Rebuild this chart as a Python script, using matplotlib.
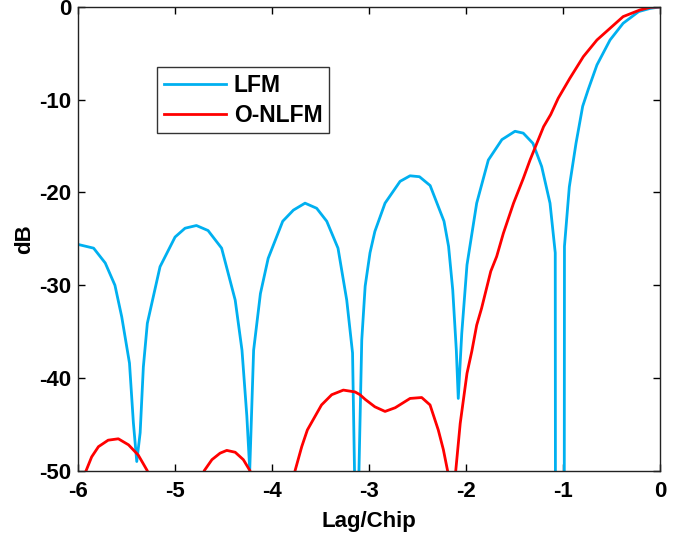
import numpy as np
import matplotlib
matplotlib.use('Agg')
import matplotlib.pyplot as plt

plt.rcParams['font.family'] = ['Liberation Sans', 'DejaVu Sans']
plt.rcParams['font.weight'] = 'bold'
plt.rcParams['axes.unicode_minus'] = False

lfm_x = [-6.0, -5.84, -5.72, -5.62, -5.55, -5.47, -5.43, -5.395, -5.36, -5.327, -5.286, -5.155,
         -5.0, -4.897, -4.78, -4.66, -4.52, -4.38, -4.31, -4.26, -4.23, -4.19, -4.12, -4.04,
         -3.89, -3.78, -3.66, -3.54, -3.436, -3.32, -3.23, -3.17, -3.145, -3.11, -3.075, -3.04,
         -2.99, -2.94, -2.835, -2.68, -2.577, -2.48, -2.37, -2.227, -2.18, -2.137, -2.10, -2.08,
         -2.044, -1.99, -1.89, -1.77, -1.63, -1.495, -1.41, -1.31, -1.22, -1.134, -1.08, -1.078,
         -0.987, -0.985, -0.935, -0.866, -0.797, -0.74, -0.65, -0.515, -0.38, -0.22, -0.1, 0.0]
lfm_db = [-25.6, -26.0, -27.6, -30.0, -33.4, -38.4, -44.8, -49.0, -45.9, -38.8, -34.1, -28.0,
          -24.8, -23.85, -23.56, -24.1, -26.0, -31.6, -37.0, -44.1, -49.9, -37.0, -30.9, -27.1,
          -23.1, -21.9, -21.15, -21.7, -23.1, -26.0, -31.6, -37.3, -53, -53, -35.9, -30.1,
          -26.5, -24.2, -21.15, -18.8, -18.2, -18.3, -19.25, -23.1, -25.8, -30.5, -37.0, -42.2,
          -35.2, -27.8, -21.15, -16.5, -14.3, -13.4, -13.6, -14.7, -17.2, -21.15, -26.5, -53,
          -53, -25.8, -19.4, -14.7, -10.7, -8.9, -6.25, -3.56, -1.76, -0.5, -0.15, 0.0]

nlfm_x = [-6.0, -5.918, -5.86, -5.79, -5.69, -5.585, -5.48, -5.38, -5.33, -5.286, -5.25, -4.74,
          -4.70, -4.62, -4.536, -4.467, -4.38, -4.296, -4.227, -4.19, -3.80, -3.763, -3.694, -3.636,
          -3.49, -3.385, -3.265, -3.144, -3.093, -3.04, -2.94, -2.835, -2.73, -2.577, -2.457, -2.371,
          -2.286, -2.234, -2.19, -2.16, -2.13, -2.106, -2.06, -1.99, -1.94, -1.89, -1.84, -1.745,
          -1.684, -1.615, -1.51, -1.41, -1.34, -1.20, -1.127, -1.05, -0.93, -0.79, -0.65, -0.515,
          -0.38, -0.206, -0.1, 0.0]
nlfm_db = [-53, -50.0, -48.5, -47.4, -46.7, -46.55, -47.2, -48.3, -49.2, -50.0, -53, -53,
           -50.0, -48.8, -48.1, -47.8, -48.0, -48.8, -50.0, -53, -53, -50.0, -47.4, -45.6,
           -42.9, -41.8, -41.3, -41.5, -41.8, -42.3, -43.1, -43.6, -43.2, -42.2, -42.1, -42.9,
           -45.6, -47.7, -50.0, -53, -53, -50.0, -44.9, -39.5, -37.1, -34.3, -32.5, -28.5,
           -26.9, -24.4, -21.15, -18.5, -16.5, -12.9, -11.6, -9.85, -7.7, -5.35, -3.56, -2.3,
           -1.04, -0.32, -0.04, 0.0]

xticks = [-6, -5, -4, -3, -2, -1, 0]
yticks = [-50, -40, -30, -20, -10, 0]

fig = plt.figure(figsize=(6.79, 5.35), dpi=100)
ax = fig.add_axes([0.115, 0.12, 0.857, 0.867])

ax.plot(lfm_x, lfm_db, color='#00B0F0', lw=2, label='LFM')
ax.plot(nlfm_x, nlfm_db, color='#FF0000', lw=2, label='O-NLFM')

ax.set_xlim(-6, 0)
ax.set_ylim(-50, 0)
ax.set_xticks(xticks)
ax.set_yticks(yticks)
ax.tick_params(direction='in', length=5, width=1, top=True, right=True, labelsize=16, pad=5)
ax.tick_params(axis='x', pad=7)
for s in ax.spines.values():
    s.set_linewidth(1)
    s.set_color('#222222')

ax.set_xlabel('Lag/Chip', fontsize=16, fontweight='bold', labelpad=7)
ax.set_ylabel('dB', fontsize=16, fontweight='bold', labelpad=3)

leg = ax.legend(loc='upper left', bbox_to_anchor=(0.136, 0.871), fontsize=16.5,
                frameon=True, fancybox=False, edgecolor='black', borderpad=0.3,
                handlelength=2.7, handletextpad=0.35, labelspacing=0.3, borderaxespad=0)
leg.get_frame().set_linewidth(1)

fig.savefig('out.png', dpi=100)
